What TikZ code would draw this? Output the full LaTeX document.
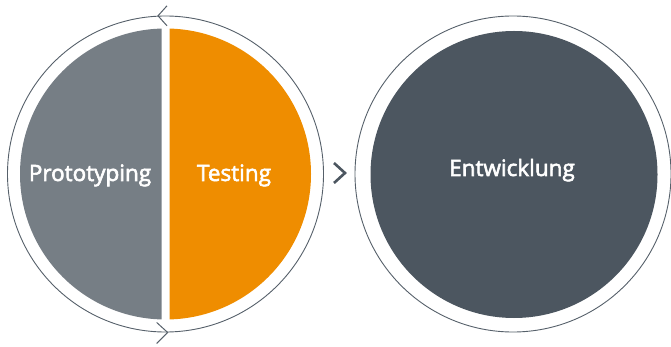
\documentclass[tikz,border=0pt]{standalone}
\usepackage{fontspec}
\setmainfont{Open Sans}
\newfontfamily\lblfont{Open Sans}[FakeBold=2.6]
\definecolor{cgray}{HTML}{767E85}
\definecolor{corange}{HTML}{EF8D00}
\definecolor{cdark}{HTML}{4C5660}
\definecolor{cline}{HTML}{56606A}
\begin{document}
\begin{tikzpicture}[x=1pt,y=-1pt,
  ring/.style={circle, draw=cline, line width=0.9pt, inner sep=0pt, minimum size=316pt},
  chev/.style={draw=cline, line width=1pt},
  midchev/.style={draw=cdark, line width=2.6pt},
  lbl/.style={text=white, font=\lblfont\fontsize{22.5}{26}\selectfont, anchor=base, inner sep=0pt}]
\useasboundingbox (0,0) rectangle (671,347);
% left ring
\node[ring] (outerL) at (165.5,174) {};
\begin{scope}
  \clip (0,0) rectangle (161.5,347);
  \fill[cgray] (165.5,174) circle[radius=145.5];
\end{scope}
\begin{scope}
  \clip (169.5,0) rectangle (671,347);
  \fill[corange] (165.5,174) circle[radius=145.5];
\end{scope}
% right ring
\node[ring] (outerR) at (513,174) {};
\node[circle, fill=cdark, inner sep=0pt, minimum size=287pt] (innerR) at (514,174.5) {};
% chevrons
\coordinate (topTip) at (158,15.8);
\draw[chev] ([shift={(9,-10)}]topTip) -- (topTip) -- ([shift={(9,10)}]topTip);
\coordinate (botTip) at (167.7,332.5);
\draw[chev] ([shift={(-11,-10)}]botTip) -- (botTip) -- ([shift={(-11,11)}]botTip);
\coordinate (midTip) at (345,173);
\draw[midchev] ([shift={(-11,-10)}]midTip) -- (midTip) -- ([shift={(-11,10)}]midTip);
% labels
\node[lbl] (proto) at (90,181) {Prototyping};
\node[lbl] (test) at (234,181) {Testing};
\node[lbl] (entw) at (512,176) {Entwicklung};
\end{tikzpicture}
\end{document}
